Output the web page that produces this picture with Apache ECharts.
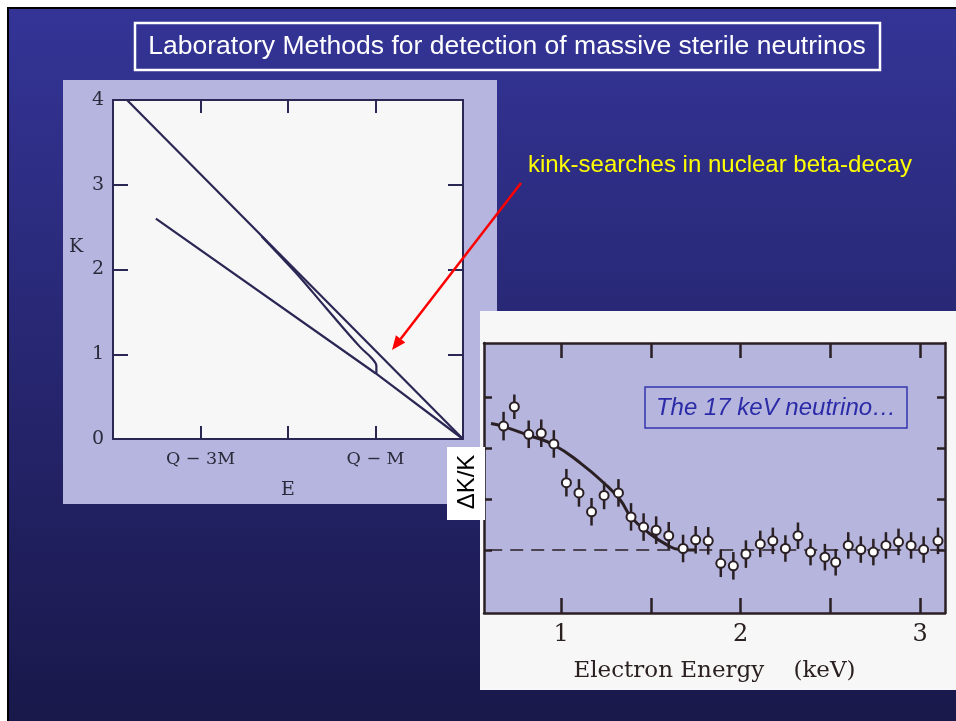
<!DOCTYPE html>
<html><head><meta charset="utf-8">
<script src="https://cdn.jsdelivr.net/npm/echarts@6/dist/echarts.min.js"></script>
<style>html,body{margin:0;padding:0;background:#fff}#c{width:956px;height:721px}</style>
</head><body><div id="c"></div><script>
// ---------- Left chart: Kurie plot (E in units of M relative to Q) ----------
const kurieXLabels = {'-3': 'Q \u2212 3M', '-1': 'Q \u2212 M'};
const upperLine = [[-3.84, 4.0], [0, 0]];
const lowerLine = [[-3.51, 2.6], [-1.0, 0.776], [0, 0]];
const kinkCurve = [[-0.99, 0.776], [-0.99, 0.86], [-1.04, 0.95], [-1.18, 1.09], [-1.56, 1.54], [-1.9, 1.95], [-2.1, 2.17], [-2.3, 2.39]];

// ---------- Right chart: 17 keV neutrino data ----------
const energy = [0.68,0.74,0.82,0.89,0.96,1.03,1.10,1.17,1.24,1.32,1.39,1.46,1.53,1.60,1.68,1.75,1.82,1.89,1.96,2.03,2.11,2.18,2.25,2.32,2.39,2.47,2.53,2.60,2.67,2.74,2.81,2.88,2.95,3.02,3.10];
const deltaK = [2.43,2.81,2.27,2.29,2.08,1.32,1.12,0.75,1.07,1.12,0.65,0.45,0.39,0.28,0.03,0.20,0.18,-0.26,-0.31,-0.08,0.12,0.18,0.03,0.28,-0.04,-0.14,-0.24,0.09,0.01,-0.04,0.09,0.16,0.09,0.01,0.18];
const errs = [0.28,0.24,0.27,0.27,0.27,0.27,0.27,0.27,0.27,0.27,0.27,0.27,0.27,0.27,0.27,0.27,0.27,0.27,0.27,0.27,0.26,0.26,0.26,0.26,0.26,0.26,0.26,0.26,0.26,0.26,0.26,0.26,0.26,0.26,0.26];
const fitE = [0.61,0.68,0.82,0.96,1.11,1.24,1.33,1.39,1.48,1.59,1.66,1.75];
const fitK = [2.48,2.42,2.25,2.06,1.70,1.31,0.98,0.65,0.36,0.10,0.01,0.0];
const baseline = [[0.6, 0], [3.13, 0]];
const keVTicks = [1, 1.5, 2, 2.5, 3];
const keVLabels = [1, 2, 3];
const dkTicks = [0, 1, 2, 3];

const dark = '#2a1f22';
const navy = '#2b2755';
const serif = 'DejaVu Serif';

const chart = echarts.init(document.getElementById('c'), null, {renderer: 'canvas'});

function frameAxis(extra) {
  return Object.assign({axisLine: {show: true, onZero: false}, splitLine: {show: false}}, extra);
}

const option = {
  animation: false,
  graphic: [
    {type: 'rect', z: -10, shape: {x: 0, y: 0, width: 956, height: 721}, style: {fill: '#ffffff'}},
    {type: 'rect', z: -9, shape: {x: 7, y: 7, width: 949, height: 714}, style: {fill: '#000000'}},
    {type: 'rect', z: -8, shape: {x: 9, y: 9, width: 947, height: 712},
      style: {fill: new echarts.graphic.LinearGradient(0, 0, 0, 1, [{offset: 0, color: '#343497'}, {offset: 1, color: '#19184a'}])}},
    {type: 'rect', z: -7, shape: {x: 135, y: 23, width: 745, height: 47}, style: {fill: 'none', stroke: '#ffffff', lineWidth: 2.5}},
    {type: 'text', z: -7, x: 507, y: 47, style: {text: 'Laboratory Methods for detection of massive sterile neutrinos', fill: '#ffffff', font: '26.5px "Liberation Sans", Arial', align: 'center', verticalAlign: 'middle'}},
    // left picture panel
    {type: 'rect', z: -6, shape: {x: 63, y: 80, width: 434, height: 424}, style: {fill: '#b5b5df'}},
    {type: 'rect', z: -6, shape: {x: 113, y: 100, width: 350, height: 339}, style: {fill: '#f7f7f7'}},
    {type: 'text', z: 5, x: 76, y: 247, style: {text: 'K', fill: '#2a2a3a', font: '19px "DejaVu Serif"', align: 'center', verticalAlign: 'middle'}},
    // annotation
    {type: 'text', z: 5, x: 720, y: 165, style: {text: 'kink-searches in nuclear beta-decay', fill: '#ffff00', font: '24px "Liberation Sans", Arial', align: 'center', verticalAlign: 'middle'}},
    {type: 'line', z: 5, shape: {x1: 521, y1: 183, x2: 400.6, y2: 338.9}, style: {stroke: '#ff0000', lineWidth: 2.5}},
    {type: 'polygon', z: 5, shape: {points: [[392, 350], [405.3, 342.6], [395.9, 335.2]]}, style: {fill: '#ff0000'}},
    // right picture panel
    {type: 'rect', z: -5, shape: {x: 480, y: 311, width: 476, height: 379}, style: {fill: '#f8f7f7'}},
    {type: 'rect', z: -5, shape: {x: 484, y: 343, width: 461, height: 270}, style: {fill: '#b5b5de'}},
    {type: 'rect', z: 6, shape: {x: 645, y: 387, width: 262, height: 41}, style: {fill: 'none', stroke: '#3535b0', lineWidth: 1.5}},
    {type: 'text', z: 6, x: 776, y: 408, style: {text: 'The 17 keV neutrino\u2026', fill: '#2b2ba8', font: 'italic 24px "Liberation Sans", Arial', align: 'center', verticalAlign: 'middle'}},
    // ΔK/K label
    {type: 'rect', z: 7, shape: {x: 447, y: 447, width: 38, height: 73}, style: {fill: '#ffffff'}},
    {type: 'text', z: 8, x: 467, y: 482, rotation: Math.PI / 2, style: {text: '\u0394K/K', fill: '#000000', font: '24px "Liberation Sans", Arial', align: 'center', verticalAlign: 'middle'}}
  ],
  grid: [
    {left: 113, top: 100, width: 350, height: 339, containLabel: false},
    {left: 484, top: 343, width: 461, height: 270, containLabel: false}
  ],
  xAxis: [
    frameAxis({gridIndex: 0, type: 'value', min: -4, max: 0, interval: 1, position: 'bottom',
      axisLine: {show: true, onZero: false, lineStyle: {color: navy, width: 2}},
      axisTick: {show: true, inside: true, length: 13, lineStyle: {color: navy, width: 2}},
      axisLabel: {margin: 11, color: '#2a2a3a', fontFamily: serif, fontSize: 17.5, formatter: v => kurieXLabels[String(v)] || ''},
      name: 'E', nameLocation: 'middle', nameGap: 42, nameTextStyle: {color: '#2a2a3a', fontFamily: serif, fontSize: 19}}),
    frameAxis({gridIndex: 0, type: 'value', min: -4, max: 0, interval: 1, position: 'top',
      axisLine: {show: true, onZero: false, lineStyle: {color: navy, width: 2}},
      axisTick: {show: true, inside: true, length: 13, lineStyle: {color: navy, width: 2}},
      axisLabel: {show: false}}),
    frameAxis({gridIndex: 1, type: 'value', min: 0.571, max: 3.139, position: 'bottom',
      axisLine: {show: true, onZero: false, lineStyle: {color: dark, width: 2.5}},
      axisTick: {show: true, inside: true, length: 15, customValues: keVTicks, lineStyle: {color: dark, width: 2.5}},
      axisLabel: {margin: 10, color: '#2a2020', fontFamily: serif, fontSize: 24, customValues: keVLabels},
      name: 'Electron Energy    (keV)', nameLocation: 'middle', nameGap: 47, nameTextStyle: {color: '#2a2020', fontFamily: serif, fontSize: 23}}),
    frameAxis({gridIndex: 1, type: 'value', min: 0.571, max: 3.139, position: 'top',
      axisLine: {show: true, onZero: false, lineStyle: {color: dark, width: 2.5}},
      axisTick: {show: true, inside: true, length: 15, customValues: keVTicks, lineStyle: {color: dark, width: 2.5}},
      axisLabel: {show: false}})
  ],
  yAxis: [
    frameAxis({gridIndex: 0, type: 'value', min: 0, max: 4, interval: 1, position: 'left',
      axisLine: {show: true, onZero: false, lineStyle: {color: navy, width: 2}},
      axisTick: {show: true, inside: true, length: 15, lineStyle: {color: navy, width: 2}},
      axisLabel: {margin: 9, color: '#2a2a3a', fontFamily: serif, fontSize: 19}}),
    frameAxis({gridIndex: 0, type: 'value', min: 0, max: 4, interval: 1, position: 'right',
      axisLine: {show: true, onZero: false, lineStyle: {color: navy, width: 2}},
      axisTick: {show: true, inside: true, length: 15, lineStyle: {color: navy, width: 2}},
      axisLabel: {show: false}}),
    frameAxis({gridIndex: 1, type: 'value', min: -1.235, max: 4.06, position: 'left',
      axisLine: {show: true, onZero: false, lineStyle: {color: dark, width: 2.5}},
      axisTick: {show: true, inside: true, length: 8, customValues: dkTicks, lineStyle: {color: dark, width: 2.5}},
      axisLabel: {show: false}}),
    frameAxis({gridIndex: 1, type: 'value', min: -1.235, max: 4.06, position: 'right',
      axisLine: {show: true, onZero: false, lineStyle: {color: dark, width: 2.5}},
      axisTick: {show: true, inside: true, length: 8, customValues: dkTicks, lineStyle: {color: dark, width: 2.5}},
      axisLabel: {show: false}})
  ],
  series: [
    {type: 'line', xAxisIndex: 0, yAxisIndex: 0, data: upperLine, symbol: 'none', lineStyle: {color: navy, width: 2.2}},
    {type: 'line', xAxisIndex: 0, yAxisIndex: 0, data: lowerLine, symbol: 'none', lineStyle: {color: navy, width: 2.2}},
    {type: 'line', xAxisIndex: 0, yAxisIndex: 0, data: kinkCurve, symbol: 'none', smooth: 0.4, lineStyle: {color: navy, width: 2.2}},
    {type: 'line', xAxisIndex: 2, yAxisIndex: 2, data: baseline, symbol: 'none', lineStyle: {color: dark, width: 1.6, type: [13, 8]}},
    {type: 'line', xAxisIndex: 2, yAxisIndex: 2, data: fitE.map((e, i) => [e, fitK[i]]), symbol: 'none', smooth: 0.5, lineStyle: {color: dark, width: 3}},
    {type: 'custom', xAxisIndex: 2, yAxisIndex: 2, data: energy.map((e, i) => [e, deltaK[i], errs[i]]),
      encode: {x: 0, y: 1},
      renderItem: (params, api) => {
        const x = api.value(0), y = api.value(1), e = api.value(2);
        const p1 = api.coord([x, y + e]), p2 = api.coord([x, y - e]);
        return {type: 'line', shape: {x1: p1[0], y1: p1[1], x2: p2[0], y2: p2[1]}, style: {stroke: dark, lineWidth: 2.5}};
      }},
    {type: 'scatter', xAxisIndex: 2, yAxisIndex: 2, data: energy.map((e, i) => [e, deltaK[i]]), symbol: 'circle', symbolSize: 9,
      itemStyle: {color: '#ffffff', borderColor: dark, borderWidth: 2, opacity: 1}, z: 4}
  ]
};
chart.setOption(option);
</script></body></html>
